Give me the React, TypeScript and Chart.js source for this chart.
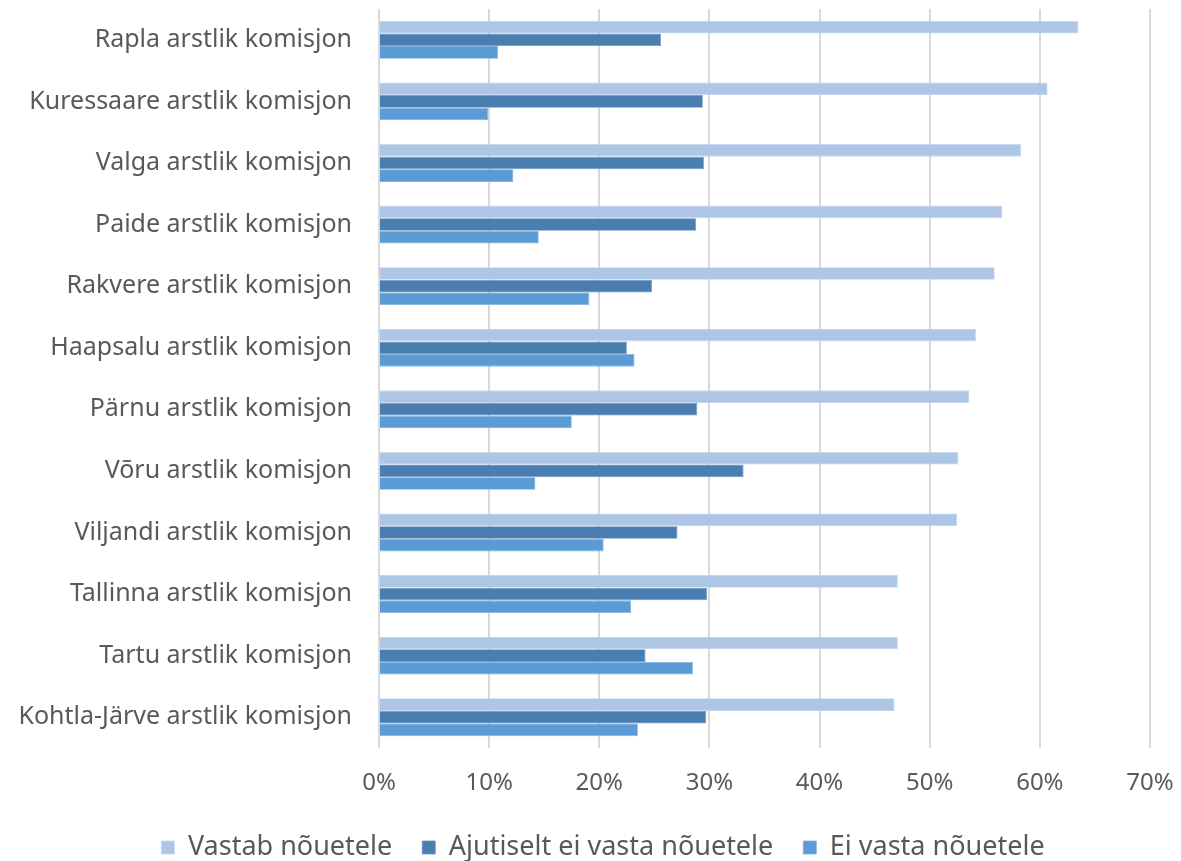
import React, { useEffect, useRef } from "react";
import { Chart, registerables } from "chart.js";

Chart.register(...registerables);

const categories = [
  "Rapla arstlik komisjon",
  "Kuressaare arstlik komisjon",
  "Valga arstlik komisjon",
  "Paide arstlik komisjon",
  "Rakvere arstlik komisjon",
  "Haapsalu arstlik komisjon",
  "Pärnu arstlik komisjon",
  "Võru arstlik komisjon",
  "Viljandi arstlik komisjon",
  "Tallinna arstlik komisjon",
  "Tartu arstlik komisjon",
  "Kohtla-Järve arstlik komisjon",
];

const vastab = [63.5, 60.7, 58.3, 56.6, 55.9, 54.2, 53.6, 52.6, 52.5, 47.1, 47.1, 46.8];
const ajutiselt = [25.6, 29.4, 29.5, 28.8, 24.8, 22.5, 28.9, 33.1, 27.1, 29.8, 24.2, 29.7];
const eiVasta = [10.8, 9.9, 12.2, 14.5, 19.1, 23.2, 17.5, 14.2, 20.4, 22.9, 28.5, 23.5];

const seriesNames = ["Vastab nõuetele", "Ajutiselt ei vasta nõuetele", "Ei vasta nõuetele"];
const xTicks = [0, 10, 20, 30, 40, 50, 60, 70];

const FONT = "'Noto Sans', sans-serif";

const legendShift = {
  id: "legendShift",
  afterLayout(chart: any) {
    const lg = chart.legend;
    if (!lg) return;
    lg.left += 28;
    lg.right += 28;
    lg.top += 3;
    lg.bottom += 3;
  },
};

export default function App() {
  const ref = useRef<HTMLCanvasElement | null>(null);

  useEffect(() => {
    document.body.style.margin = "0";
    const canvas = ref.current;
    if (!canvas) return;
    const chart: any = new Chart(canvas, {
      type: "bar",
      data: {
        labels: categories,
        datasets: [
          { label: seriesNames[0], data: vastab, backgroundColor: "#adc6e6", borderColor: "#c4d6ee", borderWidth: 0.8 },
          { label: seriesNames[1], data: ajutiselt, backgroundColor: "#4a7eb0", borderColor: "#6a95c0", borderWidth: 0.8 },
          { label: seriesNames[2], data: eiVasta, backgroundColor: "#5b9bd5", borderColor: "#7fb2e0", borderWidth: 0.8 },
        ],
      },
      options: {
        indexAxis: "y",
        animation: false,
        responsive: false,
        maintainAspectRatio: false,
        layout: { padding: { top: 9, right: 31, bottom: 0, left: 0 } },
        datasets: { bar: { categoryPercentage: 0.615, barPercentage: 1.0 } },
        scales: {
          x: {
            min: 0,
            max: 70,
            afterBuildTicks: (axis: any) => {
              axis.ticks = xTicks.map((v) => ({ value: v }));
            },
            afterFit: (axis: any) => {
              axis.height = 53;
              axis.paddingLeft = 0;
              axis.paddingRight = 0;
            },
            grid: { color: "#d9d9d9", lineWidth: 2, drawTicks: false },
            border: { display: false },
            ticks: {
              padding: 21,
              color: "#595959",
              font: { family: FONT, size: 24 },
              callback: (v: any) => v + "%",
            },
          },
          y: {
            afterFit: (axis: any) => {
              axis.width = 379;
              axis.paddingTop = 0;
              axis.paddingBottom = 0;
            },
            grid: { display: false, drawTicks: false },
            border: { display: false },
            ticks: {
              padding: 27,
              color: "#595959",
              font: { family: FONT, size: 25 },
            },
          },
        },
        plugins: {
          legend: {
            position: "bottom",
            labels: {
              boxWidth: 13,
              boxHeight: 13,
              padding: 30,
              color: "#595959",
              font: { family: FONT, size: 27 },
            },
          },
          tooltip: { enabled: false },
        },
      },
      plugins: [legendShift],
    });
    const legend = chart.legend;
    if (legend) {
      const origFit = legend.fit.bind(legend);
      legend.fit = function () {
        origFit();
        this.height = 60;
      };
      chart.update();
    }
    return () => chart.destroy();
  }, []);

  return (
    <div style={{ width: 1181, height: 861, background: "#fff" }}>
      <canvas ref={ref} width={1181} height={861} style={{ width: 1181, height: 861 }} />
    </div>
  );
}
